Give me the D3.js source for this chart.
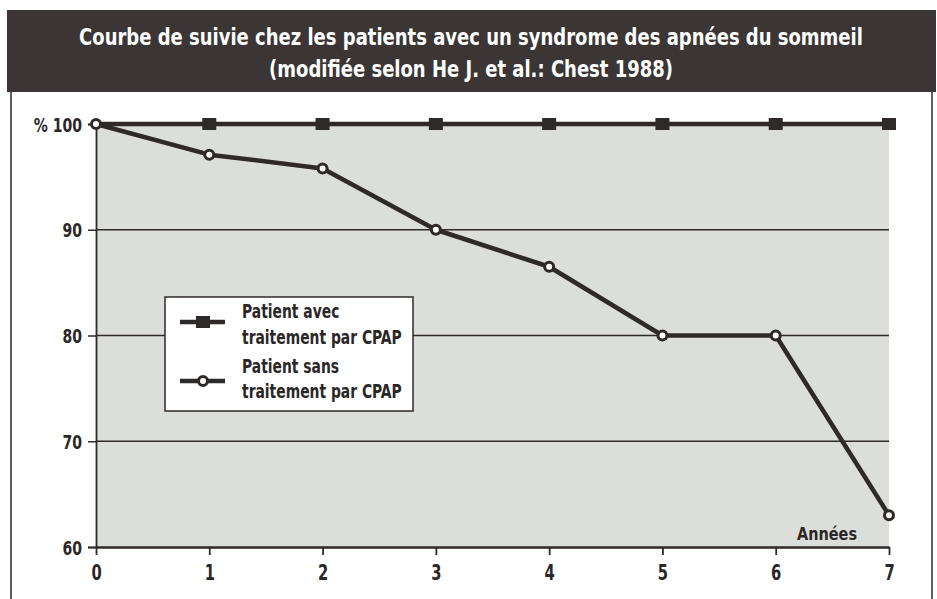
<!DOCTYPE html>
<html><head><meta charset="utf-8">
<script src="https://cdn.jsdelivr.net/npm/d3@7"></script>
<style>
body{margin:0;background:#fff;}
svg{display:block;}
text{font-family:"DejaVu Sans Condensed","DejaVu Sans",sans-serif;font-weight:bold;fill:#2b2727;}
</style></head>
<body>
<script>
const years = [0,1,2,3,4,5,6,7];
const withCPAP = [100,100,100,100,100,100,100,100];
const withoutCPAP = [100,97.1,95.8,90,86.5,80,80,63];
const yTicks = [100,90,80,70,60];
const titleLines = ["Courbe de suivie chez les patients avec un syndrome des apnées du sommeil","(modifiée selon He J. et al.: Chest 1988)"];
const legendLabels = [["Patient avec","traitement par CPAP"],["Patient sans","traitement par CPAP"]];
const xAxisTitle = "Années";

const W=937,H=599, ink="#2e2a29";
const svg=d3.select("body").append("svg").attr("width",W).attr("height",H);

// condensed text helper: place at (x,y) and squeeze horizontally
function ctext(g,x,y,str,size,anchor,sx){
  const t=g.append("text").attr("transform",`translate(${x},${y}) scale(${sx},1)`)
    .attr("text-anchor",anchor).attr("font-size",size).text(str);
  return t;
}
function fitScale(str,size,target){
  const t=svg.append("text").attr("font-size",size).text(str);
  const w=t.node().getComputedTextLength(); t.remove(); return target/w;
}

// frame
svg.append("line").attr("x1",11).attr("x2",11).attr("y1",90).attr("y2",H).attr("stroke",ink).attr("stroke-width",1.5);
svg.append("line").attr("x1",932).attr("x2",932).attr("y1",90).attr("y2",H).attr("stroke",ink).attr("stroke-width",1.5);
svg.append("rect").attr("x",7).attr("y",10).attr("width",929).attr("height",82).attr("fill","#3b3635");
const tsx=fitScale(titleLines[0],23,784);
titleLines.forEach((t,i)=>{
  ctext(svg,471,45+i*32,t,23,"middle",tsx).style("fill","#fff");
});

const x=d3.scaleLinear().domain([0,7]).range([96,889]);
const y=d3.scaleLinear().domain([60,100]).range([547,124]);

svg.append("rect").attr("x",x(0)).attr("y",y(100)).attr("width",x(7)-x(0)).attr("height",y(60)-y(100)).attr("fill","#dcdedb");

// grid
svg.append("g").selectAll("line").data(yTicks.filter(d=>d<100&&d>60)).join("line")
  .attr("x1",x(0)).attr("x2",x(7)).attr("y1",d=>y(d)).attr("y2",d=>y(d)).attr("stroke",ink).attr("stroke-width",1.5);

const nsx=0.78;
// axes
const ya=svg.append("g").attr("transform",`translate(${x(0)},0)`).call(d3.axisLeft(y).tickValues(yTicks).tickSize(8).tickFormat(d=>d===100?"% 100":d));
ya.select(".domain").attr("stroke",ink).attr("stroke-width",1.8);
ya.selectAll(".tick line").attr("stroke",ink).attr("stroke-width",1.5);
ya.selectAll(".tick text").attr("font-size",20).attr("x",-14/nsx).attr("dy","0.36em").attr("transform",`scale(${nsx},1)`)
  .attr("font-family",null).attr("font-weight",null).style("fill","#2b2727");
const xa=svg.append("g").attr("transform",`translate(0,${y(60)})`).call(d3.axisBottom(x).tickValues(years).tickSize(8).tickSizeOuter(0).tickFormat(d3.format("d")));
xa.select(".domain").attr("stroke",ink).attr("stroke-width",2.5);
xa.selectAll(".tick line").attr("stroke",ink).attr("stroke-width",1.8);
xa.selectAll(".tick text").attr("font-size",21).attr("y",18).attr("transform",`scale(${nsx},1)`)
  .attr("font-family",null).attr("font-weight",null).style("fill","#2b2727");

ctext(svg,857,540,xAxisTitle,18,"end",fitScale(xAxisTitle,18,60));

const line=d3.line().x((d,i)=>x(years[i])).y(d=>y(d));
svg.append("path").datum(withoutCPAP).attr("d",line).attr("fill","none").attr("stroke",ink).attr("stroke-width",4.5).attr("stroke-linejoin","round");
svg.append("path").datum(withCPAP).attr("d",line).attr("fill","none").attr("stroke",ink).attr("stroke-width",4.5);
svg.append("g").selectAll("rect").data(withCPAP).join("rect")
  .attr("x",(d,i)=>x(years[i])-7).attr("y",d=>y(d)-6).attr("width",14).attr("height",12).attr("fill",ink)
  .attr("display",(d,i)=>i===0?"none":null);
svg.append("g").selectAll("circle").data(withoutCPAP).join("circle")
  .attr("cx",(d,i)=>x(years[i])).attr("cy",d=>y(d)).attr("r",4.5).attr("fill","#fff").attr("stroke",ink).attr("stroke-width",3);

// legend
const lg=svg.append("g");
lg.append("rect").attr("x",165).attr("y",297).attr("width",248).attr("height",114).attr("fill","#fff").attr("stroke",ink).attr("stroke-width",1.5);
const lsx=fitScale(legendLabels[0][1],19,160);
const baselines=[[318,344],[373,398]];
[[322,"sq"],[381,"ci"]].forEach(([ly,t],i)=>{
  lg.append("line").attr("x1",180).attr("x2",225).attr("y1",ly).attr("y2",ly).attr("stroke",ink).attr("stroke-width",4.5);
  if(t==="sq") lg.append("rect").attr("x",196).attr("y",ly-6).attr("width",14).attr("height",12).attr("fill",ink);
  else lg.append("circle").attr("cx",203).attr("cy",ly).attr("r",4.5).attr("fill","#fff").attr("stroke",ink).attr("stroke-width",3);
  legendLabels[i].forEach((s,j)=>{
    ctext(lg,242,baselines[i][j],s,19,"start",lsx);
  });
});
</script>
</body></html>
